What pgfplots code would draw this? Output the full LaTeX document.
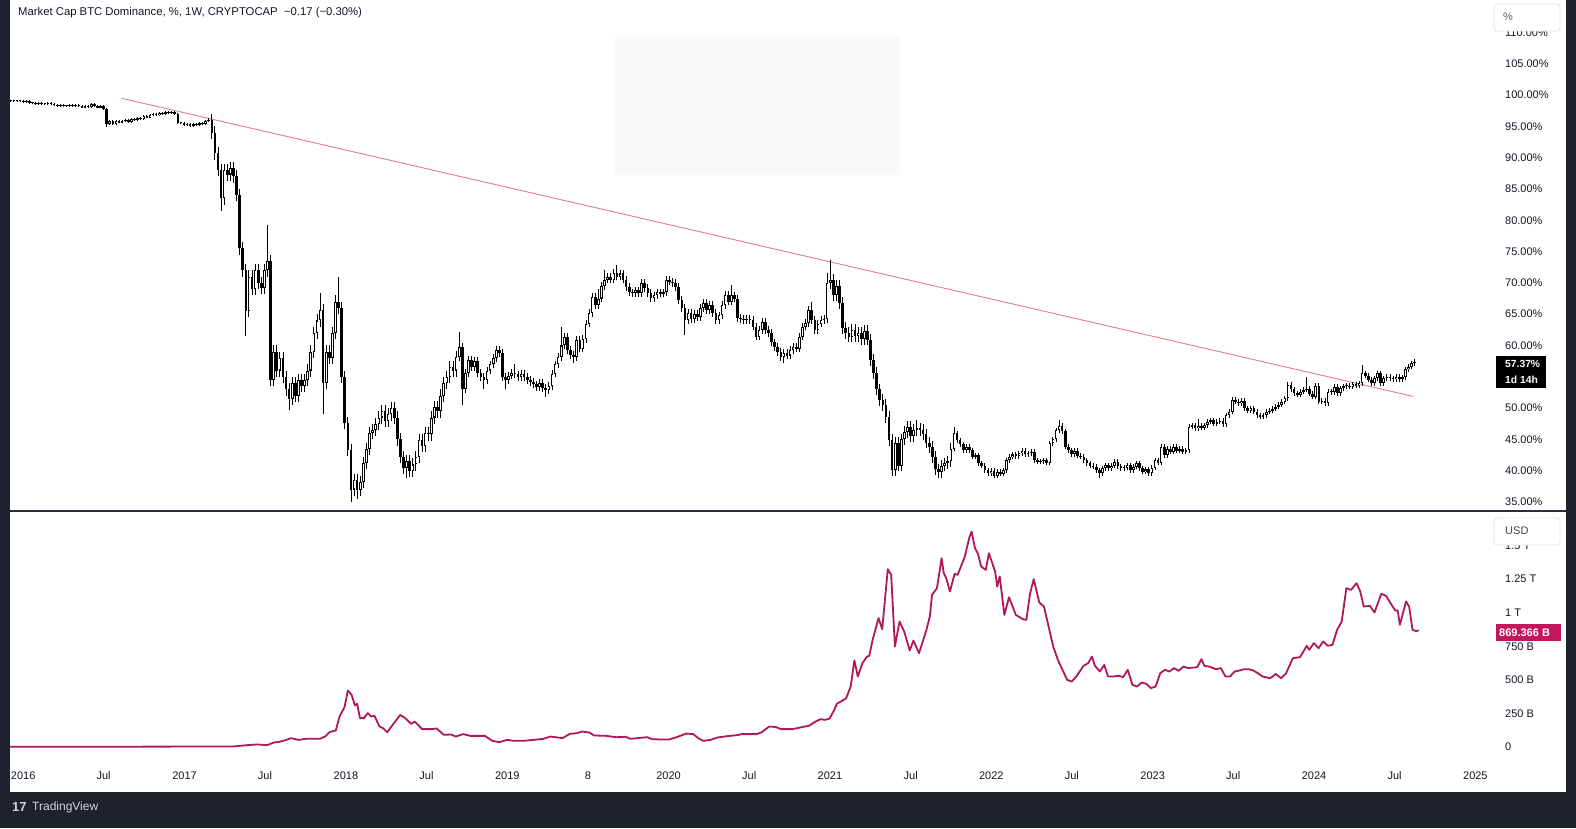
\documentclass[border=0pt]{standalone}
\usepackage{pgfplots}
\pgfplotsset{compat=1.18}
\usepackage{pgfplotstable}
\usepackage{fontspec}
\setmainfont{Liberation Sans}
\definecolor{bg}{RGB}{30,34,45}
\definecolor{tvtext}{RGB}{19,23,34}
\definecolor{divl}{RGB}{42,46,57}
\definecolor{trend}{RGB}{230,125,138}
\definecolor{mcap}{RGB}{176,24,92}
\definecolor{mcapbox}{RGB}{194,24,91}
\definecolor{boxbord}{RGB}{224,227,235}
\definecolor{logo}{RGB}{209,212,220}
\newcommand\lbl{\fontsize{11}{13}\selectfont}

\pgfplotstableread{
w o c u d
-5 99.1 99.1 0.15 0.15
-4 99.1 99.05 0.15 0.15
-3 99.05 99.1 0.15 0.15
-2 99.1 99.0 0.15 0.15
-1 99.0 99.0 0.15 0.15
0 99.0 98.95 0.15 0.15
1 98.95 99.0 0.15 0.15
2 99.0 98.7 0.15 0.15
3 98.7 98.8 0.15 0.15
4 98.8 98.6 0.15 0.15
5 98.6 98.7 0.15 0.15
6 98.7 98.5 0.15 0.15
7 98.5 98.6 0.15 0.15
8 98.6 98.7 0.15 0.15
9 98.7 98.5 0.15 0.15
10 98.5 98.4 0.15 0.15
11 98.4 98.3 0.15 0.15
12 98.3 98.4 0.15 0.15
13 98.4 98.2 0.15 0.15
14 98.2 98.3 0.15 0.15
15 98.3 98.4 0.15 0.15
16 98.4 98.3 0.15 0.15
17 98.3 98.4 0.15 0.15
18 98.4 98.2 0.15 0.15
19 98.2 98.0 0.15 0.15
20 98.0 98.2 0.15 0.15
21 98.2 98.1 0.15 0.15
22 98.1 98.5 0.15 0.15
23 98.5 98.3 0.15 0.15
24 98.3 98.0 0.15 0.15
25 98.0 98.3 0.15 0.15
26 98.3 97.8 0.15 0.15
27 97.8 95.3 0.15 0.4
28 95.3 95.8 0.15 0.15
29 95.8 95.4 0.15 0.15
30 95.4 95.9 0.15 0.15
31 95.9 95.6 0.15 0.15
32 95.6 95.8 0.15 0.15
33 95.8 96.0 0.15 0.15
34 96.0 95.7 0.15 0.15
35 95.7 96.1 0.15 0.15
36 96.1 96.0 0.15 0.15
37 96.0 96.3 0.15 0.15
38 96.3 96.2 0.15 0.15
39 96.2 96.6 0.15 0.15
40 96.6 96.4 0.15 0.15
41 96.4 96.8 0.15 0.15
42 96.8 97.0 0.15 0.15
43 97.0 96.8 0.15 0.15
44 96.8 97.2 0.15 0.15
45 97.2 97.0 0.15 0.15
46 97.0 97.3 0.15 0.15
47 97.3 97.1 0.15 0.15
48 97.1 97.3 0.15 0.15
49 97.3 97.0 0.15 0.15
50 97.0 95.5 0.15 0.15
51 95.5 95.6 0.15 0.15
52 95.6 95.2 0.15 0.15
53 95.2 95.4 0.15 0.15
54 95.4 95.1 0.15 0.15
55 95.1 95.3 0.15 0.15
56 95.3 95.2 0.15 0.15
57 95.2 95.5 0.15 0.15
58 95.5 95.4 0.15 0.15
59 95.4 95.9 0.15 0.15
60 95.9 96.0 0.4 0.15
61 96.0 94.0 1.0 1.0
62 94.0 90.7 1.0 1.0
63 90.7 88.0 1.0 1.0
64 88.0 83.5 1.0 2.0
65 83.5 88.0 1.0 1.0
66 88.0 87.3 1.0 1.0
67 87.3 88.3 1.0 1.0
68 88.3 87.0 1.0 1.0
69 87.0 84.0 1.0 1.0
70 84.0 75.5 1.0 1.0
71 75.5 72.0 1.0 1.0
72 72.0 65.5 1.0 4.0
73 65.5 71.0 1.0 1.0
74 71.0 69.0 1.0 1.0
75 69.0 72.0 1.0 1.0
76 72.0 70.0 1.0 1.0
77 70.0 69.2 1.0 1.0
78 69.2 72.0 1.0 1.0
79 72.0 73.5 5.7 1.0
80 73.5 54.5 1.0 1.0
81 54.5 59.0 1.0 1.0
82 59.0 56.0 1.0 1.0
83 56.0 58.0 1.0 1.0
84 58.0 55.0 1.0 1.0
85 55.0 53.0 1.0 1.0
86 53.0 51.5 1.0 1.8
87 51.5 54.0 1.0 1.0
88 54.0 52.0 1.0 1.0
89 52.0 54.5 1.0 1.0
90 54.5 53.5 1.0 1.0
91 53.5 54.5 1.0 1.0
92 54.5 56.0 1.0 1.0
93 56.0 59.0 1.0 1.0
94 59.0 62.0 1.0 1.0
95 62.0 64.0 1.0 1.0
96 64.0 65.7 2.7 1.0
97 65.7 54.0 1.0 5.0
98 54.0 59.0 1.0 1.0
99 59.0 58.0 1.0 1.0
100 58.0 62.0 1.0 1.0
101 62.0 67.0 1.0 1.0
102 67.0 66.0 3.9 1.0
103 66.0 55.0 1.0 1.0
104 55.0 47.6 1.0 1.0
105 47.6 43.3 1.0 1.0
106 43.3 37.0 1.0 2.0
107 37.0 38.5 1.0 1.0
108 38.5 36.9 1.0 1.4
109 36.9 38.2 1.0 1.0
110 38.2 41.2 1.0 1.0
111 41.2 43.5 1.0 1.0
112 43.5 46.0 1.0 1.0
113 46.0 46.5 1.0 1.0
114 46.5 47.5 1.0 1.0
115 47.5 48.5 1.0 1.0
116 48.5 49.5 1.0 1.0
117 49.5 48.0 1.0 1.0
118 48.0 49.0 1.0 1.0
119 49.0 50.0 1.0 1.0
120 50.0 48.5 1.0 1.0
121 48.5 45.0 1.0 1.0
122 45.0 42.2 1.0 1.0
123 42.2 40.5 1.0 1.0
124 40.5 41.5 1.0 1.7
125 41.5 40.0 1.0 1.0
126 40.0 41.0 1.0 1.0
127 41.0 42.2 1.0 1.0
128 42.2 44.9 1.0 1.0
129 44.9 44.0 1.0 1.0
130 44.0 46.0 1.0 1.0
131 46.0 45.8 1.0 1.0
132 45.8 48.5 1.0 1.0
133 48.5 50.2 1.0 1.0
134 50.2 49.5 1.0 1.0
135 49.5 52.0 1.0 1.0
136 52.0 54.0 1.0 1.0
137 54.0 55.0 1.0 1.0
138 55.0 56.6 1.0 1.0
139 56.6 56.0 1.0 1.0
140 56.0 58.2 1.0 1.0
141 58.2 59.8 2.4 0.6
142 59.8 53.0 0.6 2.5
143 53.0 55.6 0.6 0.6
144 55.6 57.7 0.6 0.6
145 57.7 56.5 0.6 0.6
146 56.5 57.5 0.6 0.6
147 57.5 55.6 0.6 0.6
148 55.6 55.0 0.6 0.6
149 55.0 54.5 0.6 1.5
150 54.5 56.0 0.6 0.6
151 56.0 57.0 0.6 0.6
152 57.0 58.0 0.6 0.6
153 58.0 59.3 0.6 0.6
154 59.3 58.8 0.6 0.6
155 58.8 55.0 0.6 0.6
156 55.0 54.5 0.6 1.5
157 54.5 55.2 0.6 0.6
158 55.2 55.6 0.6 0.6
159 55.6 55.4 1.4 0.6
160 55.4 55.0 0.6 0.6
161 55.0 55.5 0.6 0.6
162 55.5 55.0 0.6 0.6
163 55.0 54.5 0.6 0.6
164 54.5 54.2 0.6 0.6
165 54.2 53.8 0.6 0.6
166 53.8 53.4 0.6 0.6
167 53.4 54.0 0.6 0.6
168 54.0 53.2 0.6 0.6
169 53.2 52.9 0.6 1.1
170 52.9 53.5 0.6 0.6
171 53.5 55.5 0.6 0.6
172 55.5 57.0 0.6 0.6
173 57.0 58.2 0.6 0.6
174 58.2 60.0 3.0 0.6
175 60.0 61.4 0.6 0.6
176 61.4 59.3 0.6 0.6
177 59.3 58.5 0.6 0.6
178 58.5 58.2 0.6 1.0
179 58.2 60.9 0.6 0.6
180 60.9 59.5 0.6 0.6
181 59.5 61.0 0.6 0.6
182 61.0 63.5 0.6 0.6
183 63.5 65.2 0.6 0.6
184 65.2 67.8 0.6 0.6
185 67.8 66.5 0.6 0.6
186 66.5 67.5 1.5 0.6
187 67.5 69.5 0.6 0.6
188 69.5 70.5 1.5 0.6
189 70.5 71.0 0.6 0.6
190 71.0 70.5 0.6 0.6
191 70.5 71.6 0.6 0.6
192 71.6 71.0 1.3 0.6
193 71.0 71.5 0.6 0.6
194 71.5 70.5 0.6 0.6
195 70.5 69.3 0.6 0.6
196 69.3 68.5 0.6 0.6
197 68.5 68.4 0.6 0.6
198 68.4 68.8 0.6 0.6
199 68.8 68.4 0.6 0.6
200 68.4 70.0 0.6 0.6
201 70.0 69.2 0.6 0.6
202 69.2 68.4 0.6 0.6
203 68.4 67.6 0.6 0.6
204 67.6 68.0 0.6 0.6
205 68.0 68.5 0.6 0.6
206 68.5 68.3 0.6 0.6
207 68.3 68.5 0.6 0.6
208 68.5 70.5 0.6 0.6
209 70.5 70.2 0.6 0.6
210 70.2 70.0 0.6 0.6
211 70.0 69.3 0.6 0.6
212 69.3 67.3 0.6 0.6
213 67.3 66.0 0.6 0.6
214 66.0 64.1 0.6 2.4
215 64.1 65.2 0.6 0.6
216 65.2 64.2 0.6 0.6
217 64.2 65.0 0.6 0.6
218 65.0 64.5 0.6 0.6
219 64.5 66.0 0.6 0.6
220 66.0 66.8 0.6 0.6
221 66.8 65.7 0.6 0.6
222 65.7 66.5 0.6 0.6
223 66.5 65.2 0.6 0.6
224 65.2 64.1 0.6 0.6
225 64.1 64.8 0.6 0.6
226 64.8 66.5 0.6 0.6
227 66.5 68.1 0.6 0.6
228 68.1 67.0 0.6 0.6
229 67.0 68.0 1.7 0.6
230 68.0 67.5 0.6 0.6
231 67.5 64.4 0.6 0.6
232 64.4 64.2 0.6 0.6
233 64.2 64.0 0.6 0.6
234 64.0 64.3 0.6 0.6
235 64.3 64.1 0.6 0.6
236 64.1 63.0 0.6 0.6
237 63.0 61.4 0.6 0.6
238 61.4 62.5 0.6 0.6
239 62.5 63.8 0.6 0.6
240 63.8 62.5 0.6 0.6
241 62.5 62.0 0.6 0.6
242 62.0 60.5 0.6 0.6
243 60.5 59.8 0.6 0.6
244 59.8 59.0 0.6 0.6
245 59.0 58.2 0.6 0.6
246 58.2 58.8 0.6 1.0
247 58.8 58.4 0.6 0.6
248 58.4 59.3 0.6 0.6
249 59.3 59.8 0.6 0.6
250 59.8 59.5 0.6 0.6
251 59.5 61.4 0.6 0.6
252 61.4 63.0 0.6 0.6
253 63.0 63.6 0.6 0.6
254 63.6 65.7 0.6 0.6
255 65.7 64.1 1.3 0.6
256 64.1 62.5 0.6 0.6
257 62.5 63.5 0.6 0.6
258 63.5 64.1 0.6 0.6
259 64.1 64.2 0.6 0.6
260 64.2 70.0 1.5 0.6
261 70.0 70.5 3.2 0.9
262 70.5 68.0 0.9 0.9
263 68.0 69.5 0.9 0.9
264 69.5 66.8 0.9 0.9
265 66.8 62.8 0.9 0.9
266 62.8 62.0 0.9 0.9
267 62.0 61.4 0.9 0.9
268 61.4 62.5 0.9 0.9
269 62.5 61.5 0.9 0.9
270 61.5 62.0 0.9 0.9
271 62.0 61.0 0.9 0.9
272 61.0 62.3 0.9 0.9
273 62.3 60.9 0.9 0.9
274 60.9 57.7 0.9 0.9
275 57.7 55.6 0.9 0.9
276 55.6 53.0 0.9 0.9
277 53.0 51.3 0.9 0.9
278 51.3 50.5 0.9 0.9
279 50.5 48.6 0.9 0.9
280 48.6 44.9 0.9 0.9
281 44.9 40.1 0.9 0.9
282 40.1 44.5 0.9 0.9
283 44.5 40.8 0.9 0.9
284 40.8 45.0 0.9 0.9
285 45.0 46.2 0.9 0.9
286 46.2 47.0 0.9 0.9
287 47.0 45.5 0.9 0.9
288 45.5 46.5 0.9 0.9
289 46.5 46.8 1.3 0.9
290 46.8 46.5 0.9 0.9
291 46.5 45.8 0.9 0.9
292 45.8 44.5 0.9 0.9
293 44.5 43.8 0.9 0.9
294 43.8 42.2 0.9 0.9
295 42.2 40.2 0.9 0.9
296 40.2 39.8 0.9 0.9
297 39.8 40.8 0.9 0.9
298 40.8 41.2 0.9 0.9
299 41.2 41.5 0.9 0.9
300 41.5 43.5 0.9 0.9
301 43.5 46.0 1.0 0.4
302 46.0 44.9 0.4 0.4
303 44.9 44.2 0.4 0.4
304 44.2 43.3 0.4 0.4
305 43.3 43.8 0.4 0.4
306 43.8 43.3 0.4 0.4
307 43.3 42.2 0.4 0.4
308 42.2 42.5 0.4 0.4
309 42.5 41.2 0.4 0.4
310 41.2 40.8 0.4 0.4
311 40.8 40.1 0.4 0.4
312 40.1 39.6 0.4 0.4
313 39.6 40.0 0.4 0.4
314 40.0 39.2 0.4 0.4
315 39.2 39.8 0.4 0.4
316 39.8 39.5 0.4 0.4
317 39.5 40.1 0.4 0.4
318 40.1 41.7 0.4 0.4
319 41.7 42.2 0.4 0.4
320 42.2 42.6 0.4 0.4
321 42.6 42.3 0.4 0.4
322 42.3 42.8 0.4 0.4
323 42.8 43.2 0.4 0.4
324 43.2 42.6 0.4 0.4
325 42.6 42.8 0.4 0.4
326 42.8 43.0 0.4 0.4
327 43.0 41.7 0.4 0.4
328 41.7 41.4 0.4 0.4
329 41.4 41.5 0.4 0.4
330 41.5 41.7 0.4 0.4
331 41.7 41.3 0.4 0.4
332 41.3 44.4 0.4 0.4
333 44.4 45.0 0.4 0.4
334 45.0 46.5 0.4 0.4
335 46.5 47.2 0.9 0.4
336 47.2 46.3 0.4 0.4
337 46.3 43.8 0.4 0.4
338 43.8 43.3 0.4 0.4
339 43.3 42.6 0.4 0.4
340 42.6 43.2 0.4 0.4
341 43.2 42.4 0.4 0.4
342 42.4 42.2 0.4 0.4
343 42.2 41.7 0.4 0.4
344 41.7 41.2 0.4 0.4
345 41.2 40.8 0.4 0.4
346 40.8 40.6 0.4 0.4
347 40.6 40.1 0.4 0.4
348 40.1 39.6 0.4 0.8
349 39.6 40.4 0.4 0.4
350 40.4 40.9 0.4 0.4
351 40.9 40.4 0.4 0.4
352 40.4 40.8 0.4 0.4
353 40.8 41.4 0.4 0.4
354 41.4 40.7 0.4 0.4
355 40.7 40.4 0.4 0.4
356 40.4 40.5 0.4 0.4
357 40.5 40.9 0.4 0.4
358 40.9 40.1 0.4 0.4
359 40.1 40.6 0.4 0.4
360 40.6 41.2 0.4 0.4
361 41.2 40.4 0.4 0.4
362 40.4 39.8 0.4 0.4
363 39.8 40.2 0.4 0.4
364 40.2 39.6 0.4 0.4
365 39.6 40.5 0.4 0.4
366 40.5 41.7 0.4 0.4
367 41.7 41.3 0.4 0.4
368 41.3 43.8 0.4 0.4
369 43.8 42.5 0.4 0.4
370 42.5 43.5 0.4 0.4
371 43.5 43.0 0.4 0.4
372 43.0 43.8 0.4 0.4
373 43.8 43.2 0.4 0.4
374 43.2 43.5 0.4 0.4
375 43.5 43.0 0.4 0.4
376 43.0 43.3 0.4 0.4
377 43.3 47.0 0.4 0.4
378 47.0 47.3 0.4 0.4
379 47.3 46.8 0.4 0.4
380 46.8 47.2 1.0 0.4
381 47.2 46.9 0.4 0.4
382 46.9 47.3 0.4 0.4
383 47.3 47.8 0.4 0.4
384 47.8 48.1 0.4 0.4
385 48.1 47.5 0.4 0.4
386 47.5 47.8 0.4 0.4
387 47.8 48.0 0.4 0.4
388 48.0 47.4 0.4 0.4
389 47.4 48.9 0.4 0.4
390 48.9 49.4 0.4 0.4
391 49.4 51.3 0.4 0.4
392 51.3 51.0 0.4 0.4
393 51.0 50.8 0.4 0.4
394 50.8 51.2 0.4 0.4
395 51.2 50.0 0.4 0.4
396 50.0 49.6 0.4 0.4
397 49.6 50.0 0.4 0.4
398 50.0 49.4 0.4 0.4
399 49.4 48.9 0.4 0.4
400 48.9 48.6 0.4 0.4
401 48.6 48.9 0.4 0.4
402 48.9 49.4 0.4 0.4
403 49.4 49.6 0.4 0.4
404 49.6 49.9 0.4 0.4
405 49.9 50.2 0.4 0.4
406 50.2 50.5 0.4 0.4
407 50.5 51.0 0.4 0.4
408 51.0 51.6 0.4 0.4
409 51.6 53.7 0.4 0.4
410 53.7 53.0 0.4 0.4
411 53.0 52.4 0.4 0.4
412 52.4 52.1 0.4 0.4
413 52.1 52.6 0.4 0.4
414 52.6 52.9 0.4 0.4
415 52.9 53.1 1.9 0.4
416 53.1 52.3 0.4 0.4
417 52.3 51.8 0.4 0.4
418 51.8 53.6 0.4 0.4
419 53.6 51.0 0.4 0.4
420 51.0 51.2 0.4 0.4
421 51.2 50.8 0.4 0.4
422 50.8 52.6 0.4 0.4
423 52.6 52.5 0.4 0.4
424 52.5 53.4 0.4 0.4
425 53.4 52.4 0.4 0.4
426 52.4 53.2 0.4 0.4
427 53.2 53.5 0.4 0.4
428 53.5 53.6 0.4 0.4
429 53.6 53.4 0.4 0.4
430 53.4 53.8 0.4 0.4
431 53.8 53.6 0.4 0.4
432 53.6 54.0 0.4 0.4
433 54.0 55.6 1.3 0.4
434 55.6 55.2 0.4 0.4
435 55.2 54.5 0.4 0.4
436 54.5 54.0 0.4 0.4
437 54.0 54.8 0.4 0.4
438 54.8 55.6 0.4 0.4
439 55.6 54.0 0.4 0.4
440 54.0 54.8 0.4 0.4
441 54.8 55.0 0.4 0.4
442 55.0 54.8 0.4 0.4
443 54.8 54.6 0.4 0.4
444 54.6 55.0 0.4 0.4
445 55.0 54.6 0.4 0.4
446 54.6 54.9 0.4 0.4
447 54.9 56.2 0.4 0.4
448 56.2 56.6 0.4 0.4
449 56.6 57.2 0.4 0.4
450 57.2 57.37 0.4 0.4
}\dom

\pgfplotstableread{
w B
-5 2
20 2
45 3
67.8 4
72.5 14
75.7 19
78.8 14
81.2 34
82.7 38
85.1 53
86.6 66
89.0 53
91.4 61
93.7 61
96.0 61
97.6 78
99.2 113
101.1 123
102.3 227
103.9 296
105.0 420
106.2 388
107.3 309
108.0 321
108.9 215
110.2 215
111.4 252
112.5 227
113.6 232
115.2 153
116.4 140
117.7 110
119.5 165
121.9 239
123.5 215
125.5 172
126.6 190
129.0 133
132.1 133
133.7 138
136.0 91
138.4 93
139.9 78
142.3 96
144.6 83
147.0 83
149.3 83
151.7 46
154.0 36
156.4 53
158.7 46
161.9 46
165.0 53
168.2 61
170.5 78
174.4 66
176.8 98
179.1 103
180.7 115
183.1 108
184.6 86
188.5 83
191.7 73
194.8 76
196.4 61
199.5 68
201.8 73
203.4 58
206.6 56
208.9 56
211.3 73
214.4 100
216.7 96
218.3 66
219.9 46
222.2 53
224.6 71
227.7 81
230.8 88
232.4 96
237.1 96
238.7 108
241.3 153
243.5 148
245.0 133
248.8 133
251.8 148
254.1 158
256.3 190
257.8 207
259.3 202
260.8 212
262.3 277
263.1 321
265.3 351
266.1 361
267.6 450
268.8 644
269.9 525
271.4 624
272.9 673
273.6 678
274.7 797
276.6 959
277.8 877
279.6 1323
280.7 1281
281.9 748
283.4 934
284.9 859
286.7 718
287.9 792
289.7 698
292.1 872
293.2 971
293.9 1132
295.5 1182
297.0 1405
297.7 1293
298.5 1256
299.7 1157
301.2 1288
302.2 1281
304.5 1417
306.0 1561
306.7 1603
307.8 1479
308.7 1442
309.8 1343
311.3 1318
312.3 1442
314.3 1306
315.0 1194
315.8 1269
317.3 983
318.8 1115
321.0 983
323.3 951
324.4 946
325.6 1140
326.8 1249
328.6 1075
330.1 1045
331.6 897
333.1 748
334.6 649
336.1 574
337.6 500
339.1 487
340.6 525
342.9 604
344.4 624
345.6 673
346.6 604
348.2 562
349.6 611
350.8 525
352.7 525
354.2 530
355.7 520
357.2 574
358.7 463
360.2 450
361.7 480
363.2 470
364.7 438
366.2 450
367.7 549
369.2 574
370.7 562
372.2 587
373.7 567
375.2 599
376.7 587
379.7 594
381.0 654
382.0 604
383.5 599
385.8 579
387.3 587
388.8 525
390.3 525
391.8 562
393.3 569
394.8 579
396.3 579
397.8 569
399.3 549
400.8 525
403.1 512
403.8 520
405.0 544
406.8 512
408.4 549
410.6 661
412.9 668
415.1 753
415.9 723
417.4 773
418.9 735
420.4 785
421.9 753
423.4 760
424.9 872
426.4 934
427.9 1182
429.4 1169
431.2 1219
432.4 1157
433.5 1045
435.5 1050
437.0 1001
439.2 1140
440.7 1125
442.2 1070
443.7 1016
444.5 1016
445.2 909
447.2 1083
448.2 1045
449.3 872
450.5 862
451.3 869.4
}\mcap

\pgfplotsset{candle/.style={only marks, mark=*, mark size=0pt,
  mark options={draw=none, fill=none}, forget plot,
  error bars/.cd, y dir=plus, y explicit, error mark=none}}

\begin{document}
\begin{tikzpicture}[x=1pt,y=1pt]
\fill[bg] (0pt,0pt) rectangle (1576pt,-828pt);
\fill[white] (10pt,0pt) rectangle (1566pt,-792pt);
\fill[black!2.5] (615pt,-35pt) rectangle (900pt,-175pt);

\begin{axis}[
  at={(10pt,0pt)}, anchor=north west, scale only axis,
  width=1478pt, height=511pt,
  xmin=-4.27, xmax=473.7, ymin=33.57, ymax=115.17,
  axis line style={draw=none}, tick style={draw=none},
  xtick=\empty,
  ytick={35,40,...,110},
  yticklabels={35.00\%,40.00\%,45.00\%,50.00\%,55.00\%,60.00\%,65.00\%,70.00\%,75.00\%,80.00\%,85.00\%,90.00\%,95.00\%,100.00\%,105.00\%,110.00\%},
  yticklabel pos=right,
  yticklabel style={anchor=west, inner sep=0pt, xshift=17pt, font=\lbl, text=tvtext},
  clip=true,
]
\addplot[trend, line width=0.9pt, forget plot] coordinates {(31.85,99.47) (449.4,51.88)};
% wicks
\addplot[candle, error bar style={line width=0.9pt, draw=black}]
  table[x=w, y expr={min(\thisrow{o},\thisrow{c})-\thisrow{d}},
        y error plus expr={abs(\thisrow{c}-\thisrow{o})+\thisrow{u}+\thisrow{d}}]{\dom};
% bodies
\addplot[candle, error bar style={line width=2.6pt, draw=black}]
  table[x=w, y expr={min(\thisrow{o},\thisrow{c})},
        y error plus expr={max(abs(\thisrow{c}-\thisrow{o}),0.16)}]{\dom};
% hollow interior of rising candles
\addplot[candle, error bar style={line width=0.8pt, draw=white}]
  table[x=w, y expr={\thisrow{o}+0.17},
        y error plus expr={max(\thisrow{c}-\thisrow{o}-0.34,0)}]{\dom};
\end{axis}

\begin{axis}[
  at={(10pt,-512pt)}, anchor=north west, scale only axis,
  width=1478pt, height=251pt,
  xmin=-4.27, xmax=473.7, ymin=-119, ymax=1748.5,
  axis line style={draw=none}, tick style={draw=none},
  xtick={0,26,52.18,78.2,104.36,130.4,156.54,182.6,208.72,234.8,260.9,287,313.08,339.1,365.26,391.3,417.44,443.5,469.62},
  xticklabels={2016,Jul,2017,Jul,2018,Jul,2019,8,2020,Jul,2021,Jul,2022,Jul,2023,Jul,2024,Jul,2025},
  xticklabel style={anchor=center, yshift=-13pt, font=\lbl, text=tvtext},
  ytick={0,250,500,750,1000,1250,1500},
  yticklabels={0,250 B,500 B,750 B,1 T,1.25 T,1.5 T},
  yticklabel pos=right,
  yticklabel style={anchor=west, inner sep=0pt, xshift=17pt, font=\lbl, text=tvtext},
  clip=true,
]
\addplot[mcap, line width=1.8pt, line join=round] table[x=w, y=B]{\mcap};
\end{axis}

% pane divider
\draw[divl, line width=1.3pt] (10pt,-511pt) -- (1566pt,-511pt);

% title
\node[anchor=west, inner sep=0pt, text=tvtext, font=\fontsize{11.3}{13}\selectfont] at (18pt,-13pt)
  {Market Cap BTC Dominance, \%, 1W, CRYPTOCAP\ \ −0.17 (−0.30\%)};

% scale boxes (they hide the top half of the highest label, as in the reference)
\filldraw[fill=white, draw=boxbord, rounded corners=3pt, line width=0.8pt] (1494pt,-4pt) rectangle (1560pt,-31pt);
\node[anchor=west, inner sep=0pt, text=tvtext!70, font=\lbl] at (1503pt,-17pt) {\%};
\filldraw[fill=white, draw=boxbord, rounded corners=3pt, line width=0.8pt] (1494pt,-518pt) rectangle (1560pt,-545pt);
\node[anchor=west, inner sep=0pt, text=tvtext!80, font=\lbl] at (1505pt,-531pt) {USD};

% last value labels
\fill[black] (1496pt,-356pt) rectangle (1546pt,-388pt);
\node[anchor=west, inner sep=0pt, align=left, text=white, font=\bfseries\fontsize{10.3}{15.5}\selectfont] at (1505pt,-372pt) {57.37\%\\1d 14h};
\fill[mcapbox] (1496pt,-624pt) rectangle (1561pt,-641pt);
\node[anchor=west, inner sep=0pt, text=white, font=\bfseries\lbl] at (1499pt,-632.5pt) {869.366 B};

% TradingView logo
\node[anchor=west, inner sep=0pt, text=logo, font=\bfseries\fontsize{13}{15}\selectfont] at (12pt,-807pt) {17};
\node[anchor=west, inner sep=0pt, text=logo, font=\fontsize{12}{14}\selectfont] at (32pt,-807pt) {TradingView};

\pgfresetboundingbox
\path (0pt,0pt) rectangle (1576pt,-828pt);
\end{tikzpicture}
\end{document}
